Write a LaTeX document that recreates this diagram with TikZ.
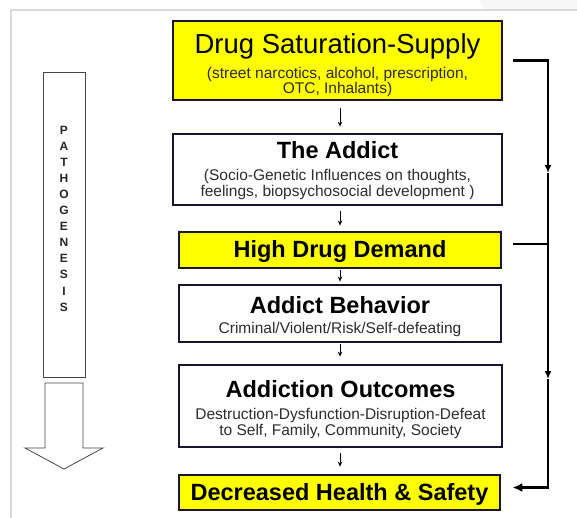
\documentclass[tikz,border=0pt]{standalone}
\usepackage{fontspec}
\setmainfont{Liberation Sans}
\usetikzlibrary{arrows.meta}

\definecolor{boxline}{RGB}{22,22,48}
\definecolor{hiyellow}{RGB}{255,255,0}
\definecolor{subgray}{RGB}{45,45,45}
\definecolor{framegray}{RGB}{218,218,218}
\definecolor{outline}{RGB}{70,70,70}

\begin{document}
\begin{tikzpicture}[x=1pt,y=-1pt,
  box/.style={draw=boxline, line width=2.8pt, inner sep=0pt},
  yellowbox/.style={box, fill=hiyellow},
  whitebox/.style={box, fill=white},
  headtext/.style={font=\fontsize{23.5}{26}\selectfont\bfseries, inner sep=0pt, anchor=base},
  bigtext/.style={font=\fontsize{27.5}{30}\selectfont, inner sep=0pt, anchor=base},
  subtext/.style={font=\fontsize{15.5}{17}\selectfont, text=subgray, inner sep=0pt, anchor=base},
  flow/.style={line width=0.9pt, -{Stealth[length=5pt,width=4.5pt]}},
  rail/.style={line width=2.6pt},
  railhead/.style={-{Latex[length=8pt,width=7pt]}},
  endhead/.style={-{Latex[length=10pt,width=9pt]}},
  pathostyle/.style={draw=outline, line width=0.8pt, fill=white}
]
\useasboundingbox (0,0) rectangle (577,518);

% page frame
\fill[gray!6, rounded corners=6pt] (480,-8) rectangle (600,9);
\draw[framegray, line width=1.4pt] (11,520) -- (11,10) -- (580,10);

% main chain of boxes
\node[yellowbox, minimum width=329pt, minimum height=79pt] (supply)   at (337.5,60.5) {};
\node[whitebox,  minimum width=329pt, minimum height=71pt] (addict)   at (337.5,169.5) {};
\node[yellowbox, minimum width=322pt, minimum height=36pt] (demand)   at (340,250) {};
\node[whitebox,  minimum width=322pt, minimum height=57pt] (behavior) at (340,313.5) {};
\node[whitebox,  minimum width=323pt, minimum height=82pt] (outcomes) at (340.5,406) {};
\node[yellowbox, minimum width=321pt, minimum height=35pt] (safety)   at (339.5,492.5) {};

% box texts
\node[bigtext]  (supplyT)  at (337.5,54) {Drug Saturation-Supply};
\node[subtext]  (supplyS1) at (337.5,79) {(street narcotics, alcohol, prescription,};
\node[subtext]  (supplyS2) at (337.5,94) {OTC, Inhalants)};

\node[headtext] (addictT)  at (337.5,159) {The Addict};
\node[subtext]  (addictS1) at (337.5,181) {(Socio-Genetic Influences on thoughts,};
\node[subtext]  (addictS2) at (337.5,197) {feelings, biopsychosocial development )};

\node[headtext] (demandT)  at (340,258) {High Drug Demand};

\node[headtext] (behaviorT)  at (340,313) {Addict Behavior};
\node[subtext]  (behaviorS)  at (340,333) {Criminal/Violent/Risk/Self-defeating};

\node[headtext] (outcomesT)  at (340.5,397) {Addiction Outcomes};
\node[subtext]  (outcomesS1) at (340.5,419) {Destruction-Dysfunction-Disruption-Defeat};
\node[subtext]  (outcomesS2) at (340.5,435) {to Self, Family, Community, Society};

\node[headtext] (safetyT)  at (339.5,500) {Decreased Health \& Safety};

% short arrows down the chain
\coordinate (axis) at (340,0);
\draw[flow, shorten <=7pt, shorten >=6pt] (supply.south -| axis) -- (addict.north -| axis);
\draw[flow, shorten <=5pt, shorten >=5pt] (addict.south -| axis) -- (demand.north -| axis);
\draw[flow, shorten <=1pt, shorten >=2pt] (demand.south -| axis) -- (behavior.north -| axis);
\draw[flow, shorten <=1pt, shorten >=7pt] (behavior.south -| axis) -- (outcomes.north -| axis);
\draw[flow, shorten <=5pt, shorten >=7pt] (outcomes.south -| axis) -- (safety.north -| axis);

% feedback rail on the right
\coordinate (rail)  at (548,0);
\coordinate (railA) at (548,173);
\coordinate (railB) at (548,379);
\draw[rail, railhead] ([xshift=10pt]supply.east) -- (supply.east -| rail) -- (railA);
\draw[rail, railhead] (railA) -- (railB);
\draw[rail, endhead] (railB) |- ([xshift=11pt,yshift=5pt]safety.east);
\draw[rail] ([xshift=11pt,yshift=6pt]demand.east) -- ([yshift=6pt]demand.east -| rail);

% pathogenesis arrow on the left
\node[pathostyle, minimum width=42pt, minimum height=305pt, inner sep=0pt] (patho) at (64,224.5) {};
\node[font=\fontsize{12}{16.1}\selectfont\bfseries, align=center, inner sep=0pt, text=black!85]
  (pathoword) at (64,218.5) {P\\A\\T\\H\\O\\G\\E\\N\\E\\S\\I\\S};
\draw[pathostyle, line join=miter] (45,383) coordinate (shaftL) -- (83,383) -- (83,448) -- (103,448)
  -- (64,469) coordinate (pathotip) -- (25,448) -- (45,448) -- cycle;
\end{tikzpicture}
\end{document}
